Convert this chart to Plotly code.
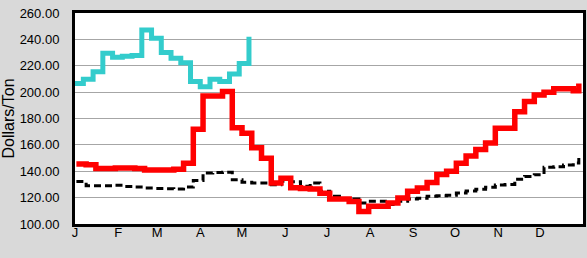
import plotly.graph_objects as go

# Month tick labels and positions (day of year)
month_labels = ["J", "F", "M", "A", "M", "J", "J", "A", "S", "O", "N", "D"]
month_days = [0, 31, 59, 90, 120, 151, 181, 212, 243, 273, 304, 334]

# Weekly prices, current year (red)
red_days = [1 + 7 * k for k in range(52)] + [362]
red_vals = [145.5, 145, 142, 142, 142.5, 142.5, 142, 141, 141, 141,
            141.5, 146, 171.8, 197, 197, 200.5, 173, 168.8, 157.9, 149.8,
            131, 134.7, 127.5, 127, 126.5, 123.3, 119, 119, 117, 109.5,
            113.5, 113.5, 116, 119.7, 124.8, 127.3, 131.5, 137.5, 140, 146,
            151.5, 156.5, 161.5, 172.6, 172.6, 185.2, 192.8, 197.8, 200, 202.5,
            202.5, 201, 206.5]

# Weekly prices, average (black dashed)
avg_days = [1 + 7 * k for k in range(52)] + [362]
avg_vals = [132.3, 129, 129, 129, 129.4, 128.5, 128, 127.3, 127, 126.8,
            126.6, 128, 133, 138.7, 139, 139.2, 133.5, 131.6, 131, 131,
            129.8, 132.4, 132, 128.6, 131, 124.8, 121, 119, 119, 116,
            117.2, 117.2, 114.7, 117.2, 119, 119.5, 121, 121.5, 121.8, 123.5,
            125, 126.3, 127.8, 129.6, 130, 134, 136, 137.4, 143, 143.5,
            144.8, 146.3, 150]

# Weekly prices, new year (cyan)
cyan_days = [-1 + 7 * k for k in range(19)]
cyan_vals = [206.5, 209.7, 215.5, 229.4, 226.4, 227.2, 227.8, 247.1, 240.8, 230,
             225.6, 222.3, 208, 204.1, 209.7, 208, 213.8, 221.8, 242]

y_ticks = [100, 120, 140, 160, 180, 200, 220, 240, 260]

fig = go.Figure()
fig.add_trace(go.Scatter(x=avg_days, y=avg_vals, mode="lines", line_shape="hv",
                         line=dict(color="black", width=3, dash="7px,4px"), showlegend=False))
fig.add_trace(go.Scatter(x=red_days, y=red_vals, mode="lines", line_shape="hv",
                         line=dict(color="#ff0000", width=5.5), showlegend=False))
fig.add_trace(go.Scatter(x=cyan_days, y=cyan_vals, mode="lines", line_shape="hv",
                         line=dict(color="#33cccc", width=5), showlegend=False))

fig.update_layout(
    width=587, height=258,
    margin=dict(l=75, r=4, t=13, b=34),
    paper_bgcolor="#d9d9d9",
    plot_bgcolor="white",
    font=dict(family="Liberation Sans, Arial, sans-serif", color="black"),
)
fig.update_xaxes(
    range=[0, 365], tickvals=month_days, ticktext=month_labels, automargin=False,
    showgrid=False, zeroline=False, showline=True, mirror=True,
    linecolor="black", linewidth=3, ticks="", tickfont=dict(size=13),
    ticklabelstandoff=-6,
)
fig.update_yaxes(
    range=[100, 260], tickvals=y_ticks, ticktext=[f"{v:.2f}" for v in y_ticks],
    automargin=False,
    showgrid=True, gridcolor="#a6a6a6", gridwidth=1, zeroline=False,
    showline=True, mirror=True, linecolor="black", linewidth=3,
    ticks="", ticklabelstandoff=10, tickfont=dict(size=13),
    title=dict(text="Dollars/Ton", font=dict(size=16), standoff=2),
)
fig.write_html(
    "out.html",
    config={"displayModeBar": False},
    post_script="document.body.style.margin='0';document.body.style.background='#d9d9d9';",
)
